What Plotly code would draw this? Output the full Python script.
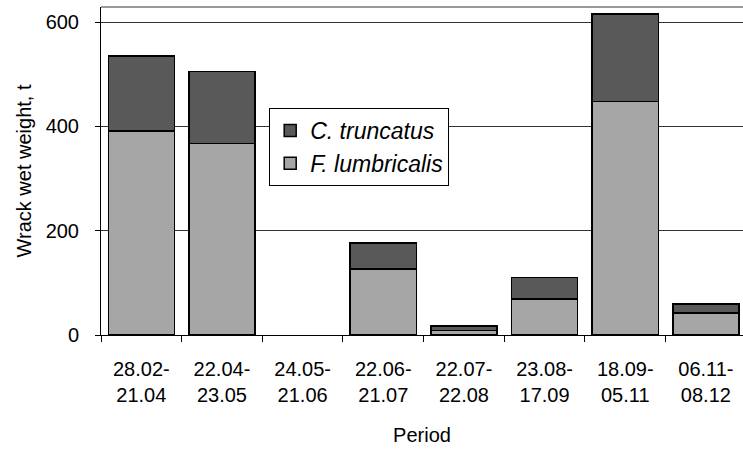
import plotly.graph_objects as go

periods = ["28.02-<br>21.04", "22.04-<br>23.05", "24.05-<br>21.06", "22.06-<br>21.07",
           "22.07-<br>22.08", "23.08-<br>17.09", "18.09-<br>05.11", "06.11-<br>08.12"]
f_lumbricalis = [391, 367, 0, 127, 9, 69, 448, 42]
c_truncatus = [144, 138, 0, 49, 8, 41, 168, 17]
y_ticks = [0, 200, 400, 600]

FONT = "Liberation Sans, Arial, sans-serif"


def outline(values):
    return [1.5 if v > 0 else 0 for v in values]


fig = go.Figure()
fig.add_trace(go.Bar(
    x=periods, y=f_lumbricalis, name="F. lumbricalis", legendgroup="f", legendrank=2,
    marker=dict(color="#a6a6a6", line=dict(color="#000000", width=outline(f_lumbricalis))),
))
fig.add_trace(go.Bar(
    x=periods, y=c_truncatus, name="C. truncatus", legendgroup="c", legendrank=1,
    marker=dict(color="#595959", line=dict(color="#000000", width=outline(c_truncatus))),
))

fig.update_layout(
    width=743, height=450,
    barmode="stack", bargap=0.18,
    plot_bgcolor="white", paper_bgcolor="white",
    margin=dict(l=101, r=0, t=7, b=115, autoexpand=False),
    font=dict(family=FONT, size=20, color="#000000"),
    showlegend=True,
    legend=dict(
        x=0.262, y=0.692, xanchor="left", yanchor="top",
        traceorder="grouped", tracegroupgap=0,
        bordercolor="#000000", borderwidth=1, bgcolor="white",
        font=dict(family=FONT, size=23, style="italic"),
    ),
    xaxis=dict(
        range=[-0.5, 7.46], showline=True, linecolor="#000000", linewidth=1,
        ticks="outside", tickson="boundaries", ticklen=6, tickcolor="#000000",
        tickfont=dict(size=20), automargin=False, ticklabelstandoff=16,
        title=dict(text="Period", font=dict(size=20), standoff=22),
    ),
    yaxis=dict(
        range=[0, 629], tickvals=y_ticks, showline=True, linecolor="#000000", linewidth=1,
        ticks="outside", ticklen=5, tickcolor="#000000",
        showgrid=True, gridcolor="#333333", gridwidth=1,
        zeroline=False, tickfont=dict(size=20), automargin=False, ticklabelstandoff=12,
        title=dict(text="Wrack wet weight, t", font=dict(size=20), standoff=8),
    ),
    shapes=[dict(type="line", xref="paper", yref="paper", x0=0, x1=1, y0=1, y1=1,
                 line=dict(color="#999999", width=2))],
)

fig.write_html("out.html", config={"displayModeBar": False},
               post_script="document.body.style.margin='0';")
